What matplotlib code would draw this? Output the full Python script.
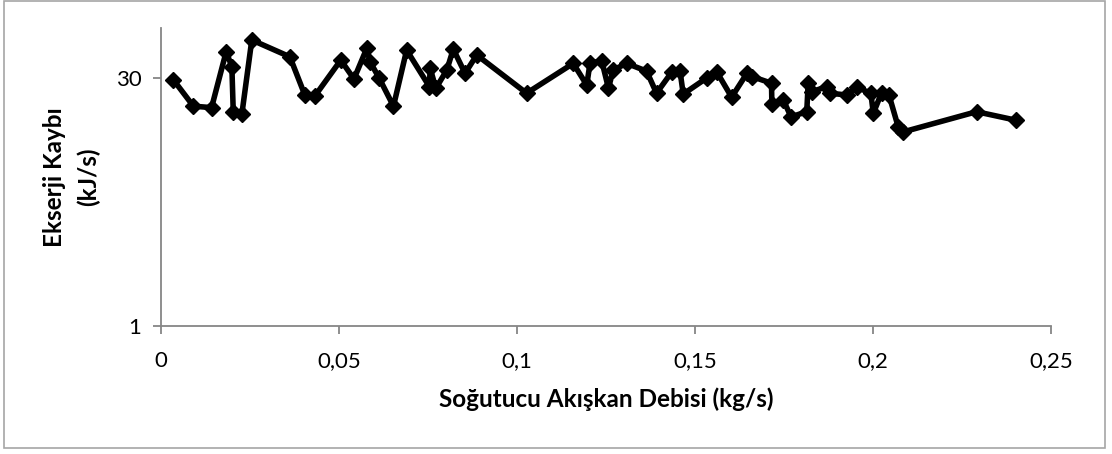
import matplotlib.pyplot as plt
from matplotlib.patches import Rectangle
from matplotlib.ticker import FixedLocator, FuncFormatter, NullLocator

# refrigerant mass flow (kg/s) and exergy loss (kJ/s)
debi = [0.0035, 0.0091, 0.0142, 0.0183, 0.0199, 0.0203, 0.0227, 0.0255, 0.0362, 0.0404,
        0.0433, 0.0505, 0.0542, 0.0578, 0.0587, 0.0613, 0.0653, 0.0690, 0.0754, 0.0756,
        0.0772, 0.0803, 0.0821, 0.0854, 0.0887, 0.1027, 0.1158, 0.1196, 0.1205, 0.1238,
        0.1257, 0.1270, 0.1308, 0.1364, 0.1392, 0.1435, 0.1458, 0.1467, 0.1533, 0.1561,
        0.1603, 0.1646, 0.1660, 0.1715, 0.1716, 0.1748, 0.1770, 0.1814, 0.1818, 0.1828,
        0.1870, 0.1879, 0.1926, 0.1954, 0.1994, 0.2001, 0.2024, 0.2045, 0.2071, 0.2085,
        0.2291, 0.2402]
kayip = [29.4, 20.5, 20.1, 43.3, 35.3, 18.8, 18.3, 50.9, 40.4, 23.9,
         23.7, 38.6, 29.8, 45.4, 37.8, 30.1, 20.5, 44.3, 26.8, 34.6,
         26.2, 33.7, 44.9, 32.2, 41.4, 24.5, 36.9, 27.4, 36.9, 38.3,
         26.2, 33.7, 36.9, 33.2, 24.5, 32.8, 33.2, 24.2, 30.2, 32.9,
         23.2, 32.2, 30.8, 28.1, 21.1, 22.3, 17.7, 19.0, 28.1, 25.0,
         26.8, 24.5, 23.9, 26.6, 24.5, 18.6, 24.6, 23.9, 15.4, 14.4,
         19.0, 16.9]

x_ticks = [0, 0.05, 0.1, 0.15, 0.2, 0.25]
y_ticks = [1, 30]

plt.rcParams['font.family'] = ['Lato', 'DejaVu Sans']

fig = plt.figure(figsize=(11.12, 4.54), dpi=100)
ax = fig.add_axes([0.1448, 0.2819, 0.8003, 0.6564])

ax.plot(debi, kayip, color='black', linewidth=4.0, marker='D', markersize=8,
        markerfacecolor='black', markeredgecolor='black')

ax.set_yscale('log')
ax.set_xlim(0, 0.25)
ax.set_ylim(1, 60)
ax.xaxis.set_major_locator(FixedLocator(x_ticks))
ax.yaxis.set_major_locator(FixedLocator(y_ticks))
ax.yaxis.set_minor_locator(NullLocator())
ax.xaxis.set_major_formatter(FuncFormatter(lambda v, p: ('%g' % v).replace('.', ',')))
ax.yaxis.set_major_formatter(FuncFormatter(lambda v, p: '%g' % v))

for side in ['top', 'right']:
    ax.spines[side].set_visible(False)
for side in ['left', 'bottom']:
    ax.spines[side].set_color('#868686')
    ax.spines[side].set_linewidth(1.3)
ax.tick_params(axis='both', direction='out', length=6, width=1.3, color='#868686',
               labelsize=16, labelcolor='black')
ax.tick_params(axis='x', pad=12)
ax.tick_params(axis='y', pad=8)

ax.set_xlabel('Soğutucu Akışkan Debisi (kg/s)', fontsize=17.5, fontweight='bold', labelpad=12)
ax.set_ylabel('Ekserji Kaybı\n(kJ/s)', fontsize=17.5, fontweight='bold', labelpad=11,
              linespacing=1.55)

# chart border
fig.patches.append(Rectangle((4 / 1112, 6 / 454), 1101 / 1112, 447 / 454,
                             transform=fig.transFigure, fill=False,
                             edgecolor='#a6a6a6', linewidth=1.2))

fig.savefig('out.png', dpi=100)
